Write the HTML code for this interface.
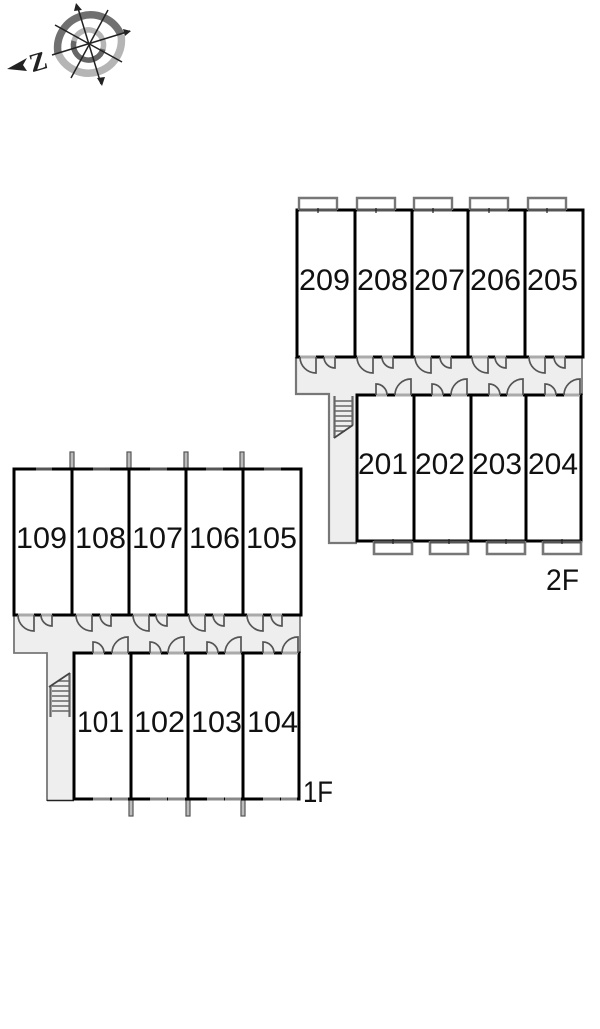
<!DOCTYPE html>
<html>
<head>
<meta charset="utf-8">
<style>
html,body{margin:0;padding:0;background:#fff;}
svg{display:block;filter:blur(0.35px);}
text{font-family:"Liberation Sans",sans-serif;fill:#111;}
</style>
</head>
<body>
<svg width="600" height="1029" viewBox="0 0 600 1029" xmlns="http://www.w3.org/2000/svg">
<defs>
<g id="ub" fill="none"><path d="M-16 0H0" stroke="#aaa" stroke-width="3"/><path d="M0 0V16A16 16 0 0 1-16 0" stroke="#555" stroke-width="1.7"/></g>
<g id="us" fill="none"><path d="M-11 0H0" stroke="#aaa" stroke-width="3"/><path d="M0 0V11A11 11 0 0 1-11 0" stroke="#555" stroke-width="1.7"/></g>
<g id="ls" fill="none"><path d="M0 0H11" stroke="#aaa" stroke-width="3"/><path d="M0 0V-11A11 11 0 0 1 11 0" stroke="#555" stroke-width="1.7"/></g>
<g id="ll" fill="none"><path d="M-16 0H0" stroke="#aaa" stroke-width="3"/><path d="M0 0V-16A16 16 0 0 0-16 0" stroke="#555" stroke-width="1.7"/></g>
<g id="bal" fill="none"><path d="M0 13V1H38V13" stroke="#777" stroke-width="2.4"/><path d="M0 13H38" stroke="#555" stroke-width="3"/><path d="M19 11V16" stroke="#222" stroke-width="1.2"/></g>
<g id="balb" fill="none"><path d="M0 0V13H38V0" stroke="#777" stroke-width="2.6"/><path d="M0 1H38" stroke="#555" stroke-width="3"/><path d="M19 -2V3" stroke="#222" stroke-width="1.2"/></g>
</defs>

<!-- Compass -->
<g fill="none">
<path d="M58 53A33 33 0 0 1 121 35" stroke="#707070" stroke-width="7.500"/>
<path d="M121 35A33 33 0 0 1 58 53" stroke="#b5b5b5" stroke-width="7.500"/>
<path d="M74 41A15 15 0 0 1 103 49" stroke="#b5b5b5" stroke-width="5.500"/>
<path d="M103 49A15 15 0 0 1 74 41" stroke="#666" stroke-width="5.500"/>
<g stroke="#222" stroke-width="1.500">
<path d="M77 5L101 84"/><path d="M52 55L130 31"/><path d="M55 25L122 62"/><path d="M108 10L71 78"/>
</g>
</g>
<g fill="#222">
<polygon points="76,3 82,10 74,11"/>
<polygon points="102,86 97,78 105,77"/>
<polygon points="131,31 123,29 125,36"/>
<polygon points="7,69 27,58 23,65 27,71"/>
</g>
<text x="29" y="70" font-size="26" font-weight="bold" transform="rotate(-16 39 60)" style="font-family:'Liberation Serif',serif;fill:#222">Z</text>

<!-- 2F corridor -->
<path d="M296 357H582V395H357V543H329V394H296Z" fill="#eee"/>
<path d="M296 357V394H329V543H357" fill="none" stroke="#777" stroke-width="2.200"/>
<path d="M582 357V395" fill="none" stroke="#888" stroke-width="2"/>

<!-- 2F stairs -->
<g stroke="#666" fill="none">
<path d="M334.500 396V438M352.500 396V425" stroke-width="2.200"/>
<path d="M335 401H352M335 406H352M335 411H352M335 416H352M335 421H352M335 426H352M335 431H345" stroke-width="1.500"/>
<path d="M334 438L353 425" stroke="#444" stroke-width="1.800"/>
</g>

<!-- 2F walls -->
<g fill="none" stroke="#000" stroke-width="3">
<path d="M297 210H583V357H297Z"/>
<path d="M355 210V357M412 210V357M468 210V357M525 210V357"/>
<path d="M357 395H581V541H357Z"/>
<path d="M414 395V541M471 395V541M526 395V541"/>
</g>

<!-- 2F balconies -->
<use href="#bal" x="299" y="197"/>
<use href="#bal" x="357" y="197"/>
<use href="#bal" x="414" y="197"/>
<use href="#bal" x="470" y="197"/>
<use href="#bal" x="528" y="197"/>
<use href="#balb" x="374" y="541"/>
<use href="#balb" x="430" y="541"/>
<use href="#balb" x="487" y="541"/>
<use href="#balb" x="543" y="541"/>

<!-- 2F doors -->
<use href="#ub" x="316" y="357"/><use href="#us" x="335" y="357"/>
<use href="#ub" x="373" y="357"/><use href="#us" x="393" y="357"/>
<use href="#ub" x="431" y="357"/><use href="#us" x="451" y="357"/>
<use href="#ub" x="488" y="357"/><use href="#us" x="506" y="357"/>
<use href="#ub" x="545" y="357"/><use href="#us" x="565" y="357"/>
<use href="#ls" x="376" y="395"/><use href="#ll" x="411" y="395"/>
<use href="#ls" x="432" y="395"/><use href="#ll" x="467" y="395"/>
<use href="#ls" x="489" y="395"/><use href="#ll" x="523" y="395"/>
<use href="#ls" x="545" y="395"/><use href="#ll" x="580" y="395"/>

<!-- 1F corridor -->
<path d="M14 615H300V653H74V800H47V653H14Z" fill="#eee"/>
<path d="M14 615V653H47V801" fill="none" stroke="#777" stroke-width="1.800"/>
<path d="M47 800.500H74" fill="none" stroke="#222" stroke-width="1.600"/>
<path d="M300 615V653" fill="none" stroke="#888" stroke-width="2"/>

<!-- 1F stairs -->
<g stroke="#666" fill="none">
<path d="M50.500 686V717M69.500 673V717" stroke-width="2.200"/>
<path d="M58 681H69M52 686H69M52 691H69M52 696H69M52 701H69M52 706H69M52 711H69" stroke-width="1.500"/>
<path d="M49 687L70 673" stroke="#444" stroke-width="1.800"/>
</g>

<!-- 1F fins -->
<g fill="#bbb" stroke="#555" stroke-width="1.200">
<rect x="70" y="452" width="4" height="17"/>
<rect x="127" y="452" width="4" height="17"/>
<rect x="184" y="452" width="4" height="17"/>
<rect x="240" y="452" width="4" height="17"/>
<rect x="129" y="800" width="4" height="16"/>
<rect x="186" y="800" width="4" height="16"/>
<rect x="241" y="800" width="4" height="16"/>
</g>

<!-- 1F walls -->
<g fill="none" stroke="#000" stroke-width="3">
<path d="M14 469H301V615H14Z"/>
<path d="M72 469V615M129 469V615M186 469V615M243 469V615"/>
<path d="M74 653H299V799H74Z"/>
<path d="M131 653V799M188 653V799M243 653V799"/>
</g>

<!-- 1F windows -->
<g fill="none" stroke="#555" stroke-width="3">
<path d="M36 469H52M93 469H110M150 469H167M206 469H223M264 469H281"/>
</g>
<g fill="none" stroke="#888" stroke-width="3">
<path d="M93 799H110M112 799H128M150 799H167M168 799H185M207 799H224M225 799H241M263 799H280M281 799H297"/>
</g>

<!-- 1F doors -->
<use href="#ub" x="34" y="615"/><use href="#us" x="52" y="615"/>
<use href="#ub" x="92" y="615"/><use href="#us" x="111" y="615"/>
<use href="#ub" x="149" y="615"/><use href="#us" x="167" y="615"/>
<use href="#ub" x="205" y="615"/><use href="#us" x="224" y="615"/>
<use href="#ub" x="263" y="615"/><use href="#us" x="282" y="615"/>
<use href="#ls" x="93" y="653"/><use href="#ll" x="128" y="653"/>
<use href="#ls" x="150" y="653"/><use href="#ll" x="184" y="653"/>
<use href="#ls" x="207" y="653"/><use href="#ll" x="241" y="653"/>
<use href="#ls" x="263" y="653"/><use href="#ll" x="298" y="653"/>

<!-- Labels -->
<g font-size="30">
<text x="299" y="290" textLength="51" lengthAdjust="spacingAndGlyphs">209</text>
<text x="357" y="290" textLength="51" lengthAdjust="spacingAndGlyphs">208</text>
<text x="414" y="290" textLength="51" lengthAdjust="spacingAndGlyphs">207</text>
<text x="470" y="290" textLength="51" lengthAdjust="spacingAndGlyphs">206</text>
<text x="527" y="290" textLength="51" lengthAdjust="spacingAndGlyphs">205</text>
<text x="358" y="474" textLength="50" lengthAdjust="spacingAndGlyphs">201</text>
<text x="415" y="474" textLength="50" lengthAdjust="spacingAndGlyphs">202</text>
<text x="472" y="474" textLength="50" lengthAdjust="spacingAndGlyphs">203</text>
<text x="528" y="474" textLength="50" lengthAdjust="spacingAndGlyphs">204</text>
<text x="16" y="548" textLength="51" lengthAdjust="spacingAndGlyphs">109</text>
<text x="75" y="548" textLength="51" lengthAdjust="spacingAndGlyphs">108</text>
<text x="132" y="548" textLength="51" lengthAdjust="spacingAndGlyphs">107</text>
<text x="189" y="548" textLength="51" lengthAdjust="spacingAndGlyphs">106</text>
<text x="246" y="548" textLength="51" lengthAdjust="spacingAndGlyphs">105</text>
<text x="77" y="732" textLength="47" lengthAdjust="spacingAndGlyphs">101</text>
<text x="134" y="732" textLength="51" lengthAdjust="spacingAndGlyphs">102</text>
<text x="191" y="732" textLength="51" lengthAdjust="spacingAndGlyphs">103</text>
<text x="247" y="732" textLength="51" lengthAdjust="spacingAndGlyphs">104</text>
<text x="546" y="590" textLength="33" lengthAdjust="spacingAndGlyphs">2F</text>
<text x="303" y="802" textLength="30" lengthAdjust="spacingAndGlyphs">1F</text>
</g>
</svg>
</body>
</html>
